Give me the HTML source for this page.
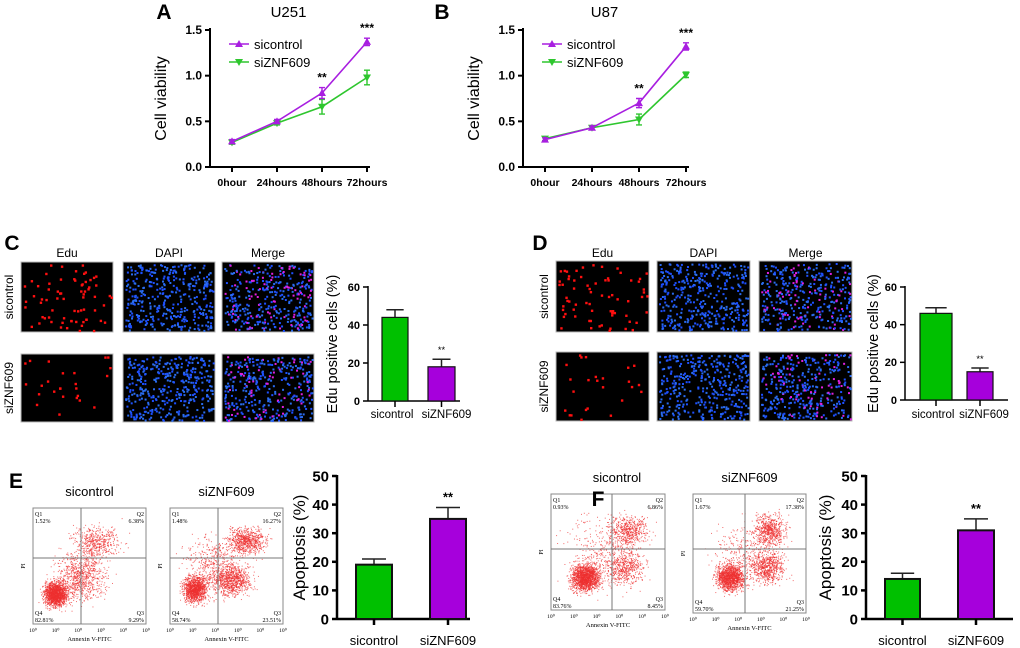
<!DOCTYPE html>
<html><head><meta charset="utf-8"><style>
html,body{margin:0;padding:0;background:#fff}
svg{display:block;font-family:"Liberation Sans",sans-serif}
</style></head><body>
<svg id="fig" width="1020" height="648" viewBox="0 0 1020 648" xmlns="http://www.w3.org/2000/svg"></svg>
<script>
// ---- data ----
const timeCats = ["0hour","24hours","48hours","72hours"];
const aCtrl = [0.28,0.50,0.81,1.37];
const aCtrlErr = [0.02,0.02,0.06,0.04];
const aSi = [0.27,0.48,0.66,0.98];
const aSiErr = [0.02,0.02,0.08,0.08];
const aStars = ["","","**","***"];
const bCtrl = [0.30,0.43,0.70,1.32];
const bCtrlErr = [0.02,0.02,0.05,0.04];
const bSi = [0.31,0.43,0.52,1.01];
const bSiErr = [0.02,0.02,0.06,0.03];
const bStars = ["","","**","***"];
const lineTicks = [0,0.5,1.0,1.5];
const lineTickLabels = ["0.0","0.5","1.0","1.5"];
const groups = ["sicontrol","siZNF609"];
const cVals = [44,18], cErr = [4,4];
const dVals = [46,15], dErr = [3,2];
const eduTicks = [0,20,40,60];
const eVals = [19,35], eErr = [2,4];
const fVals = [14,31], fErr = [2,4];
const apoTicks = [0,10,20,30,40,50];

const NS="http://www.w3.org/2000/svg";
const svg=document.getElementById('fig');
function el(tag,attrs,parent,txt){const e=document.createElementNS(NS,tag);for(const k in attrs)e.setAttribute(k,attrs[k]);if(txt!==undefined)e.textContent=txt;(parent||svg).appendChild(e);return e;}
function grp(name,parent){const g=el('g',{},parent);return g;}
function txt(g,x,y,s,size,opts){opts=opts||{};const t=el('text',{x:x,y:y,'font-size':size,'text-anchor':opts.anchor||'middle','font-weight':opts.bold?'bold':'normal',fill:opts.fill||'#000'},g,s);if(opts.rot)t.setAttribute('transform','rotate(-90 '+x+' '+y+')');if(opts.family)t.setAttribute('font-family',opts.family);return t;}
let seed=12345;function rnd(){seed=(seed*1103515245+12345)%2147483648;return seed/2147483648;}
function gauss(){return (rnd()+rnd()+rnd()+rnd()-2)/1.15;}

const PURPLE="#a81ee0", GREEN="#2ec62e";
// ---- line chart ----
function lineChart(name,o){
  const g=grp(name);
  const ys=v=>o.y0-(v/1.5)*(o.y0-o.y1);
  const xs=i=>o.xt[i];
  el('line',{x1:o.ax,y1:o.y1-2,x2:o.ax,y2:o.y0,stroke:'#000','stroke-width':2},g);
  el('line',{x1:o.ax,y1:o.y0,x2:o.xt[3]+3,y2:o.y0,stroke:'#000','stroke-width':2},g);
  lineTicks.forEach((v,i)=>{el('line',{x1:o.ax-5,y1:ys(v),x2:o.ax,y2:ys(v),stroke:'#000','stroke-width':2},g);txt(g,o.ax-8,ys(v)+4,lineTickLabels[i],12,{anchor:'end',bold:true,name:'y-tick-label'});});
  timeCats.forEach((c,i)=>{el('line',{x1:xs(i),y1:o.y0,x2:xs(i),y2:o.y0+5,stroke:'#000','stroke-width':2},g);txt(g,xs(i),o.y0+19,c,10.5,{bold:true,name:'x-tick-label'});});
  txt(g,o.ax-44,(o.y0+o.y1)/2,'Cell viability',16,{rot:true,name:'y-axis-title'});
  txt(g,(o.ax+o.xt[3])/2,17,o.title,15,{name:'chart-title'});
  txt(g,o.letterX,19,o.letter,21,{bold:true,name:'panel-label'});
  [[o.si,o.siErr,GREEN,false],[o.ctrl,o.ctrlErr,PURPLE,true]].forEach(([vals,errs,col,up])=>{
    const sg=grp(up?'series-sicontrol':'series-siznf609',g);
    el('polyline',{points:vals.map((v,i)=>xs(i)+','+ys(v)).join(' '),fill:'none',stroke:col,'stroke-width':1.6},sg);
    vals.forEach((v,i)=>{const x=xs(i),y=ys(v),e=errs[i];
      el('path',{d:`M${x},${ys(v+e)}V${ys(v-e)}M${x-3},${ys(v+e)}h6M${x-3},${ys(v-e)}h6`,stroke:col,'stroke-width':1.4,fill:'none'},sg);
      const p=up?`M${x},${y-4}L${x+4},${y+3}L${x-4},${y+3}Z`:`M${x},${y+4}L${x+4},${y-3}L${x-4},${y-3}Z`;
      const m=el('path',{d:p,fill:col},sg);});
  });
  o.stars.forEach((s,i)=>{if(s)txt(g,xs(i),ys(o.ctrl[i]+o.ctrlErr[i])-6,s,12,{bold:true,name:'significance'});});
  const lg=grp('legend',g);
  [[PURPLE,'sicontrol',o.y1+14,true],[GREEN,'siZNF609',o.y1+32,false]].forEach(([c,t,y,up])=>{
    el('line',{x1:o.lx,y1:y,x2:o.lx+20,y2:y,stroke:c,'stroke-width':1.6},lg);const x=o.lx+10;
    el('path',{d:up?`M${x},${y-4}L${x+4},${y+3}L${x-4},${y+3}Z`:`M${x},${y+4}L${x+4},${y-3}L${x-4},${y-3}Z`,fill:c},lg);
    txt(lg,o.lx+25,y+5,t,13,{anchor:'start',name:'legend-entry'});});
}
lineChart('chart-a-u251',{ax:210,y0:167,y1:30,xt:[232,277,322,367],ctrl:aCtrl,ctrlErr:aCtrlErr,si:aSi,siErr:aSiErr,stars:aStars,title:'U251',letter:'A',letterX:164,lx:229});
lineChart('chart-b-u87',{ax:523,y0:167,y1:30,xt:[545,592,639,686],ctrl:bCtrl,ctrlErr:bCtrlErr,si:bSi,siErr:bSiErr,stars:bStars,title:'U87',letter:'B',letterX:442,lx:542});

// ---- bar charts ----
function barChart(name,o){
  const g=grp(name);
  const max=o.ticks[o.ticks.length-1];
  const ys=v=>o.y0-(v/max)*(o.y0-o.y1);
  el('line',{x1:o.ax,y1:o.y1-1,x2:o.ax,y2:o.y0,stroke:'#000','stroke-width':o.sw},g);
  el('line',{x1:o.ax,y1:o.y0,x2:o.axEnd,y2:o.y0,stroke:'#000','stroke-width':o.sw},g);
  o.ticks.forEach(v=>{el('line',{x1:o.ax-5,y1:ys(v),x2:o.ax,y2:ys(v),stroke:'#000','stroke-width':o.sw},g);txt(g,o.ax-8,ys(v)+o.fs*0.35,String(v),o.fs,{anchor:'end',bold:true,name:'y-tick-label'});});
  const cols=['#00c000','#a600dc'];
  o.vals.forEach((v,i)=>{const [x0,x1]=o.bx[i],cx=(x0+x1)/2,e=o.err[i];
    el('path',{d:`M${cx},${ys(v)}V${ys(v+e)}M${cx-(x1-x0)/3},${ys(v+e)}H${cx+(x1-x0)/3}`,stroke:'#222','stroke-width':1.5,fill:'none'},g);
    const r=el('rect',{x:x0,y:ys(v),width:x1-x0,height:o.y0-ys(v),fill:cols[i],stroke:'#111','stroke-width':o.sw*0.8},g);
    
    el('line',{x1:cx,y1:o.y0,x2:cx,y2:o.y0+6,stroke:'#000','stroke-width':o.sw},g);
    txt(g,cx+o.lo[i],o.labY,groups[i],o.xfs,{name:'x-tick-label'});
    if(i===1)txt(g,cx,ys(v+e)-6,'**',o.fs*0.85,{name:'significance',bold:o.sw>2});
  });
  txt(g,o.tx,o.ty,o.title,15,{name:'chart-title'});
  txt(g,o.ylx,(o.y0+o.y1)/2+o.ylo,o.ylabel,o.ylfs,{rot:true,name:'y-axis-title'});
}
barChart('chart-c-edu-u251',{ax:368,axEnd:460,y0:401,y1:287,ticks:eduTicks,vals:cVals,err:cErr,bx:[[382,408],[428,455]],sw:1.5,fs:11,xfs:11.5,lo:[-3,5],labY:418,tx:413,ty:280,ylabel:'Edu positive cells (%)',ylx:337,ylo:0,ylfs:14.5});
barChart('chart-d-edu-u87',{ax:905,axEnd:1008,y0:400,y1:287,ticks:eduTicks,vals:dVals,err:dErr,bx:[[920,952],[967,993]],sw:1.5,fs:11,xfs:11.5,lo:[-3,4],labY:418,tx:943,ty:280,ylabel:'Edu positive cells (%)',ylx:878,ylo:0,ylfs:14.5});
barChart('chart-e-apoptosis-u251',{ax:337,axEnd:470,y0:619,y1:476,ticks:apoTicks,vals:eVals,err:eErr,bx:[[356,392],[430,466]],sw:2.5,fs:15,xfs:13,lo:[0,0],labY:645,tx:398,ty:475,ylabel:'Apoptosis (%)',ylx:305,ylo:0,ylfs:17});
barChart('chart-f-apoptosis-u87',{ax:866,axEnd:1013,y0:619,y1:476,ticks:apoTicks,vals:fVals,err:fErr,bx:[[885,920],[958,994]],sw:2.5,fs:15,xfs:13,lo:[0,0],labY:645,tx:925,ty:475,ylabel:'Apoptosis (%)',ylx:831,ylo:0,ylfs:17});

// ---- microscopy images (decorative) ----
function micro(name,x,y,w,h,type,n){
  const g=grp(name);
  el('rect',{x:x,y:y,width:w,height:h,fill:'#000',stroke:'#bbb','stroke-width':1},g);
  for(let i=0;i<n;i++){const px=x+2+rnd()*(w-4),py=y+2+rnd()*(h-4);
    let c=type==='red'?'#ff1010':(rnd()<0.5?'#1e50ff':'#2a6cf0');
    if(type==='merge'&&rnd()<0.2)c='#e020e0';
    el('rect',{x:px,y:py,width:type==='red'?2.4:2,height:type==='red'?2.4:2,fill:c},g);}
}
function microPanel(letter,lx,xs,w,rows,labs){
  const g=grp('panel-'+letter);
  txt(g,lx,250,letter,21,{bold:true,name:'panel-label'});
  ['Edu','DAPI','Merge'].forEach((t,i)=>txt(g,xs[i]+w/2,257,t,12,{name:'column-label'}));
  rows.forEach((r,j)=>{txt(g,xs[0]-8,(r[0]+r[1])/2,labs[j],12,{rot:true,name:'row-label'});
    micro('edu-image-'+labs[j],xs[0],r[0],w,r[1]-r[0],'red',j?25:70);
    micro('dapi-image-'+labs[j],xs[1],r[0],w,r[1]-r[0],'blue',380);
    micro('merge-image-'+labs[j],xs[2],r[0],w,r[1]-r[0],'merge',380);});
}
microPanel('C',12,[21,123,222],92,[[262,332],[354,422]],groups);
microPanel('D',540,[556,657,759],93,[[261,332],[352,421]],groups);

// ---- flow cytometry plots (decorative) ----
function flow(name,x,y,w,h,vx,hy,q,clusters,title,tOff){
  const g=grp(name);
  txt(g,x+w/2+(tOff||0),y-12,title,13,{name:'plot-title'});
  el('rect',{x:x,y:y,width:w,height:h,fill:'#fff',stroke:'#888','stroke-width':1},g);
  clusters.forEach(([cx,cy,sx,sy,n])=>{for(let i=0;i<n;i++){const px=x+w*(cx+gauss()*sx),py=y+h*(cy+gauss()*sy);
    if(px>x+1&&px<x+w-1&&py>y+1&&py<y+h-1)el('rect',{x:px,y:py,width:1,height:1,fill:'#ee3030','fill-opacity':0.7},g);}});
  el('line',{x1:x+vx,y1:y,x2:x+vx,y2:y+h,stroke:'#777','stroke-width':1},g);
  el('line',{x1:x,y1:y+hy,x2:x+w,y2:y+hy,stroke:'#777','stroke-width':1},g);
  const f='"Liberation Serif",serif';
  txt(g,x+2,y+8,'Q1',6,{anchor:'start',family:f});txt(g,x+2,y+15,q[0],6,{anchor:'start',family:f});
  txt(g,x+w-2,y+8,'Q2',6,{anchor:'end',family:f});txt(g,x+w-2,y+15,q[1],6,{anchor:'end',family:f});
  txt(g,x+2,y+h-9,'Q4',6,{anchor:'start',family:f});txt(g,x+2,y+h-2,q[3],6,{anchor:'start',family:f});
  txt(g,x+w-2,y+h-9,'Q3',6,{anchor:'end',family:f});txt(g,x+w-2,y+h-2,q[2],6,{anchor:'end',family:f});
  for(let i=0;i<6;i++)txt(g,x+i*w/5,y+h+8,'10⁰',5.5,{family:f});
  txt(g,x+w/2,y+h+17,'Annexin V-FITC',6.5,{family:f,name:'x-axis-title'});
  txt(g,x-8,y+h/2,'PI',6,{rot:true,family:f,name:'y-axis-title'});
}
txt(svg,16,488,'E',21,{bold:true,name:'panel-label'});
flow('flow-e-sicontrol',33,508,113,116,48,50,['1.52%','6.38%','9.29%','82.81%'],[[0.2,0.74,0.1,0.1,1600],[0.42,0.6,0.22,0.2,800],[0.55,0.3,0.2,0.14,500]],'sicontrol');
flow('flow-e-siznf609',170,508,113,116,48,50,['1.48%','16.27%','23.51%','58.74%'],[[0.22,0.7,0.1,0.11,1200],[0.55,0.62,0.16,0.13,800],[0.68,0.28,0.16,0.11,700],[0.4,0.5,0.25,0.25,500]],'siZNF609');
flow('flow-f-sicontrol',551,494,114,116,61,55,['0.93%','6.86%','8.45%','83.76%'],[[0.3,0.72,0.12,0.11,1600],[0.68,0.32,0.16,0.13,500],[0.65,0.64,0.16,0.15,500],[0.45,0.5,0.3,0.3,400]],'sicontrol',9);
flow('flow-f-siznf609',693,494,113,119,52,55,['1.67%','17.38%','21.25%','59.70%'],[[0.33,0.7,0.12,0.11,1300],[0.68,0.3,0.13,0.13,600],[0.66,0.62,0.14,0.12,600],[0.5,0.5,0.3,0.25,400]],'siZNF609');
const fl=txt(svg,598,506,'F',21,{bold:true,name:'panel-label'});
</script>
</body></html>
